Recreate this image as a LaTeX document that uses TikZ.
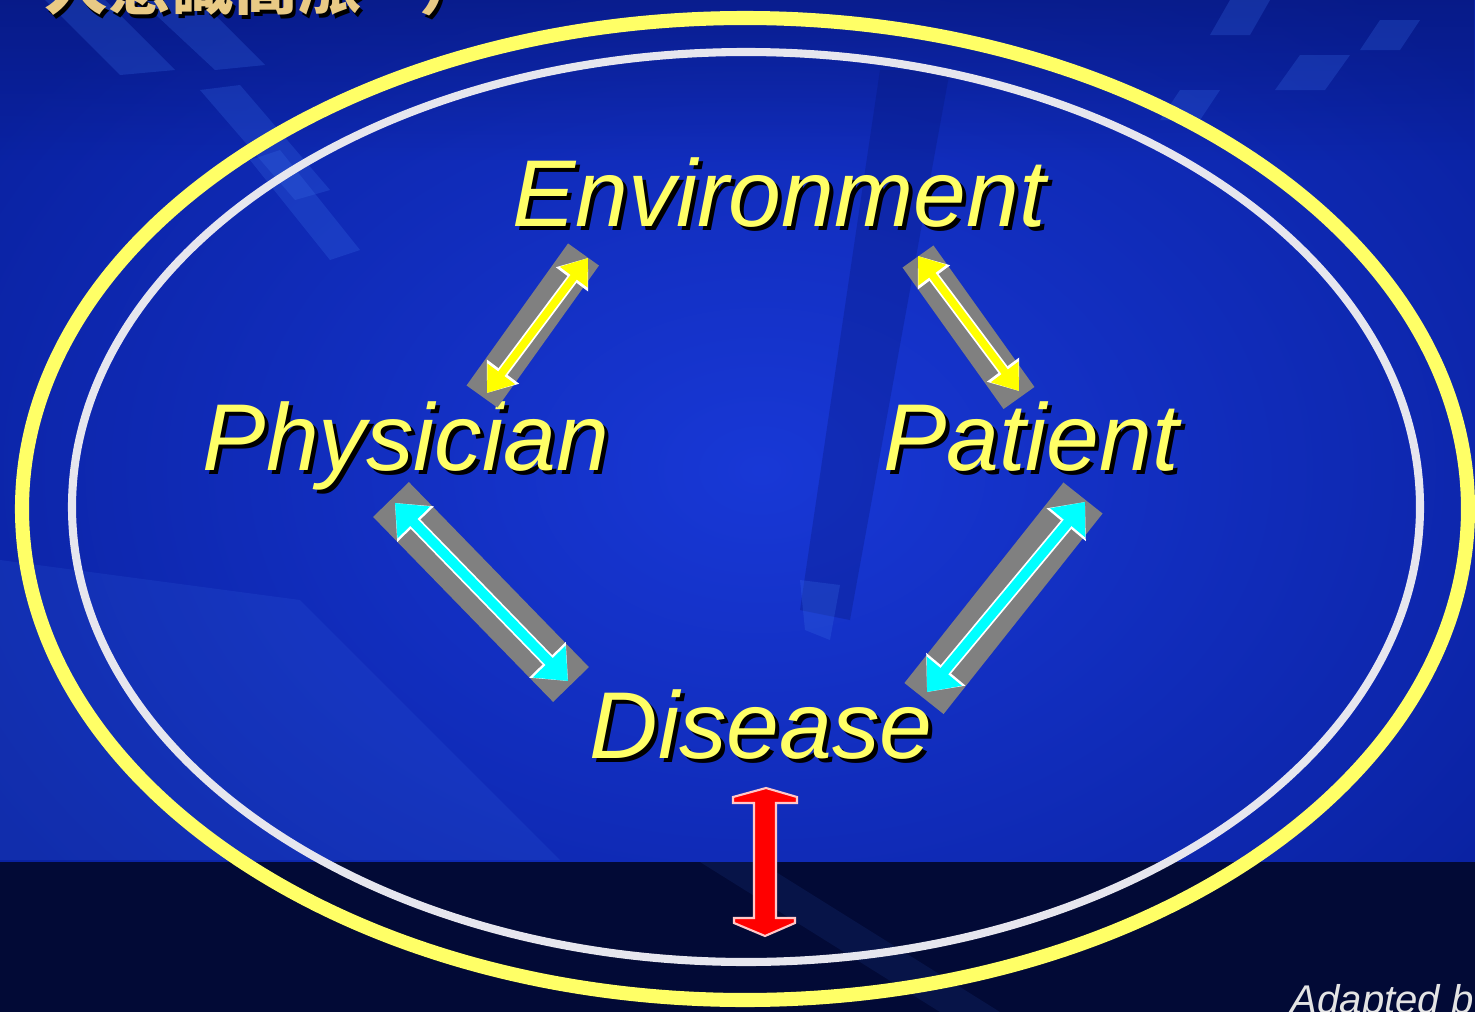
\documentclass[tikz,border=0pt]{standalone}
\usepackage{fontspec}
\setmainfont{Liberation Sans}
\newfontfamily\cjkfont{Noto Sans CJK TC}
\usetikzlibrary{arrows.meta,fadings}
\definecolor{bgmain}{HTML}{0A22A2}
\definecolor{bglight}{HTML}{1838D6}
\definecolor{bgdark}{HTML}{061678}
\definecolor{bgbottom}{HTML}{020A36}
\definecolor{streak}{HTML}{3A6FE8}
\definecolor{ringyellow}{HTML}{FFFF66}
\definecolor{ringwhite}{HTML}{E6E6EE}
\definecolor{labyellow}{HTML}{FFFF66}
\definecolor{boxgray}{HTML}{808080}
\definecolor{arrowyellow}{HTML}{FFFF00}
\definecolor{arrowcyan}{HTML}{00FFFF}
\definecolor{arrowred}{HTML}{FF0000}
\definecolor{arrowpink}{HTML}{FFC8C8}
\definecolor{cjktan}{HTML}{E9CA85}
\definecolor{credit}{HTML}{E4E4E4}
\begin{document}
\begin{tikzpicture}[x=0.01cm,y=-0.01cm,
  lbl/.style={font=\fontsize{27pt}{27pt}\selectfont\itshape, text=labyellow, inner sep=0pt, anchor=base},
  lblshadow/.style={lbl, text=black},
  cjklbl/.style={font=\cjkfont\bfseries\fontsize{18pt}{18pt}\selectfont, text=cjktan, inner sep=0pt, anchor=base west},
  cjkshadow/.style={cjklbl, text=black},
  thinbar/.style={draw=boxgray, line width=10.8pt, line cap=butt},
  widebar/.style={draw=boxgray, line width=14.2pt, line cap=butt},
  yglow/.style={draw=white, line width=3.2pt, {Triangle[width=11pt,length=7.6pt]}-{Triangle[width=11pt,length=7.6pt]}},
  yarr/.style={draw=arrowyellow, line width=2.2pt, {Triangle[width=9.4pt,length=6.8pt]}-{Triangle[width=9.4pt,length=6.8pt]}},
  cglow/.style={draw=white, line width=3.8pt, {Triangle[width=14pt,length=8.4pt]}-{Triangle[width=14pt,length=8.4pt]}},
  carr/.style={draw=arrowcyan, line width=2.8pt, {Triangle[width=12.5pt,length=7.7pt]}-{Triangle[width=12.5pt,length=7.7pt]}},
  streakband/.style={fill=streak, opacity=0.25},
  darkband/.style={fill=bgdark, opacity=0.3}
]
\useasboundingbox (0,0) rectangle (1475,1012);
\clip (0,0) rectangle (1475,1012);
% background
\fill[bgmain] (0,0) rectangle (1475,1012);
\shade[inner color=bglight, outer color=bgmain] (760,470) ellipse [x radius=900, y radius=650];
\fill[bgdark, path fading=south, opacity=0.6] (0,0) rectangle (1475,160);
% streaks top-left
\fill[streakband] (45,0) -- (105,0) -- (175,70) -- (120,75) -- cycle;
\fill[streakband] (140,0) -- (200,0) -- (265,65) -- (215,70) -- cycle;
\fill[streakband] (200,90) -- (240,85) -- (330,190) -- (295,200) -- cycle;
\fill[streakband] (250,160) -- (280,150) -- (360,250) -- (330,260) -- cycle;
% streaks top-right
\fill[streakband] (1230,0) -- (1270,0) -- (1250,35) -- (1210,35) -- cycle;
\fill[streakband] (1300,55) -- (1350,55) -- (1325,90) -- (1275,90) -- cycle;
\fill[streakband] (1180,90) -- (1220,90) -- (1200,120) -- (1160,120) -- cycle;
\fill[streakband] (1380,20) -- (1420,20) -- (1400,50) -- (1360,50) -- cycle;
% pen
\fill[darkband] (880,70) -- (950,70) -- (850,620) -- (800,610) -- cycle;
\fill[streakband] (800,580) -- (840,585) -- (830,640) -- (805,630) -- cycle;
% lower-left lighter area
\fill[streakband, opacity=0.15] (0,560) -- (300,600) -- (560,860) -- (0,860) -- cycle;
% bottom band
\fill[bgbottom] (0,862) rectangle (1475,1012);
\fill[streakband, opacity=0.1] (700,862) -- (760,862) -- (1000,1012) -- (940,1012) -- cycle;
% rings
\draw[ringyellow, line width=4pt] (745,509) ellipse [x radius=723, y radius=491];
\draw[ringwhite, line width=2.3pt] (746,507) ellipse [x radius=674, y radius=455];
% title (cut off at top, as in the reference)
\node[cjkshadow] (titles) at (47,13) {人意識高漲};
\node[cjklbl] (title) at (44,10) {人意識高漲};
\node[cjkshadow] (parens) at (422,13) {）};
\node[cjklbl] (paren) at (419,10) {）};
% labels
\node[lblshadow] (envs) at (783,230) {Environment};
\node[lbl] (env) at (779,226) {Environment};
\node[lblshadow] (phys) at (410,474) {Physician};
\node[lbl] (phy) at (406,470) {Physician};
\node[lblshadow] (pats) at (1035,474) {Patient};
\node[lbl] (pat) at (1031,470) {Patient};
\node[lblshadow] (diss) at (765,762) {Disease};
\node[lbl] (dis) at (761,758) {Disease};
% arrow end points
\coordinate (b1a) at (583.5,254.5); \coordinate (b1b) at (482,396.5);
\coordinate (a1a) at (588,258);   \coordinate (a1b) at (487,393);
\coordinate (b2a) at (918,256.5); \coordinate (b2b) at (1019,398);
\coordinate (a2a) at (918,256);   \coordinate (a2b) at (1019,391);
\coordinate (b3a) at (391,499.5); \coordinate (b3b) at (571,684.5);
\coordinate (a3a) at (395,503);   \coordinate (a3b) at (568,681);
\coordinate (b4a) at (1083,498);  \coordinate (b4b) at (924,698.5);
\coordinate (a4a) at (1085,502);  \coordinate (a4b) at (927,692);
% env - physician
\draw[thinbar] (b1a) -- (b1b);
\draw[yglow] (a1a) -- (a1b);
\draw[yarr] (a1a) -- (a1b);
% env - patient
\draw[thinbar] (b2a) -- (b2b);
\draw[yglow] (a2a) -- (a2b);
\draw[yarr] (a2a) -- (a2b);
% physician - disease
\draw[widebar] (b3a) -- (b3b);
\draw[cglow] (a3a) -- (a3b);
\draw[carr] (a3a) -- (a3b);
% patient - disease
\draw[widebar] (b4a) -- (b4b);
\draw[cglow] (a4a) -- (a4b);
\draw[carr] (a4a) -- (a4b);
% red arrow below disease
\coordinate (rtop) at (766,788);
\coordinate (rbot) at (765,936);
\fill[arrowred, draw=arrowpink, line width=0.6pt]
  (rtop) -- (797,797) -- (797,803) -- (776,803) -- (776,918) -- (795,918) -- (795,923)
  -- (rbot) -- (734,923) -- (734,918) -- (754,918) -- (754,803) -- (733,803) -- (733,797) -- cycle;
% credit (cut off, as in the reference)
\node[font=\fontsize{11.4pt}{11.4pt}\selectfont\itshape, text=credit, inner sep=0pt, anchor=base west] (credit) at (1290,1013) {Adapted by};
\end{tikzpicture}
\end{document}
